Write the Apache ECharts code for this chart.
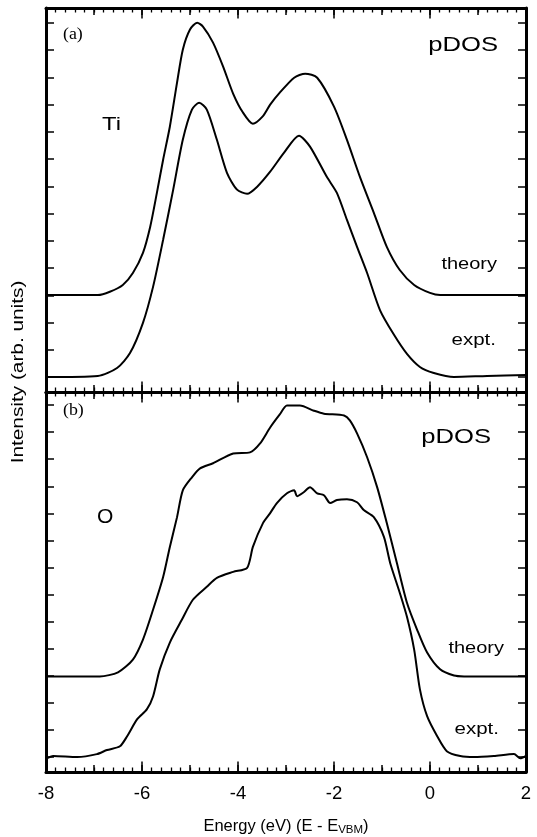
<!DOCTYPE html>
<html>
<head>
<meta charset="utf-8">
<script src="https://cdn.jsdelivr.net/npm/echarts@6/dist/echarts.min.js"></script>
<style>
  html, body { margin: 0; padding: 0; background: #fff; }
  #pdos { width: 537px; height: 837px; }
</style>
</head>
<body>
<div id="pdos"></div>
<script>
var chart = echarts.init(document.getElementById("pdos"));

// energy (eV) vs intensity (arb. units, one unit = one y tick)
var tiTheory = [
    [-8.0, 3.01], [-6.92, 3.01], [-6.67, 3.13], [-6.40, 3.38], [-6.19, 3.82],
    [-5.98, 4.56], [-5.83, 5.51], [-5.69, 6.76], [-5.56, 7.98], [-5.42, 9.19],
    [-5.27, 10.81], [-5.15, 12.02], [-5.00, 12.76], [-4.85, 13.01], [-4.73, 12.87],
    [-4.52, 12.28], [-4.31, 11.40], [-4.10, 10.40], [-3.90, 9.72], [-3.69, 9.30],
    [-3.48, 9.58], [-3.33, 10.00], [-3.13, 10.44], [-2.83, 10.99], [-2.60, 11.14],
    [-2.35, 10.99], [-2.00, 9.93], [-1.73, 8.71], [-1.46, 7.35], [-1.17, 6.03],
    [-0.90, 4.78], [-0.63, 3.93], [-0.33, 3.38], [0.0, 3.09], [0.21, 3.01],
    [2.0, 3.01]
];
var tiExpt = [
    [-8.0, 0.0], [-6.92, 0.04], [-6.52, 0.33], [-6.25, 0.88], [-5.98, 1.99],
    [-5.77, 3.31], [-5.56, 5.04], [-5.35, 6.88], [-5.15, 8.71], [-4.96, 9.82],
    [-4.81, 10.07], [-4.65, 9.82], [-4.44, 8.71], [-4.23, 7.50], [-4.02, 6.88],
    [-3.81, 6.73], [-3.60, 6.99], [-3.33, 7.54], [-3.04, 8.24], [-2.73, 8.86],
    [-2.50, 8.46], [-2.15, 7.35], [-1.94, 6.76], [-1.73, 5.77], [-1.52, 4.78],
    [-1.31, 3.82], [-1.04, 2.45], [-0.75, 1.55], [-0.48, 0.85], [-0.21, 0.37],
    [0.08, 0.15], [0.5, 0.0], [1.19, 0.04], [2.0, 0.07]
];
var oTheory = [
    [-8.0, 2.98], [-6.88, 2.98], [-6.5, 3.13], [-6.19, 3.60], [-5.98, 4.34],
    [-5.77, 5.44], [-5.56, 6.65], [-5.42, 7.76], [-5.27, 8.86], [-5.15, 9.85],
    [-4.96, 10.33], [-4.79, 10.66], [-4.52, 10.85], [-4.10, 11.21], [-3.75, 11.25],
    [-3.54, 11.58], [-3.33, 12.17], [-3.13, 12.65], [-2.98, 12.98], [-2.71, 12.98],
    [-2.42, 12.79], [-2.21, 12.68], [-1.79, 12.61], [-1.67, 12.43], [-1.52, 11.95],
    [-1.31, 11.07], [-1.10, 9.96], [-0.90, 8.64], [-0.69, 7.17], [-0.48, 5.70],
    [-0.27, 4.71], [-0.06, 3.86], [0.21, 3.24], [0.5, 3.01], [0.71, 2.98],
    [2.0, 2.98]
];
var oExpt = [
    [-8.0, -0.07], [-7.85, 0.04], [-7.35, 0.0], [-6.94, 0.11], [-6.73, 0.26],
    [-6.46, 0.40], [-6.31, 0.77], [-6.10, 1.40], [-5.90, 1.76], [-5.77, 2.24],
    [-5.63, 3.24], [-5.42, 4.23], [-5.17, 5.07], [-4.94, 5.81], [-4.65, 6.29],
    [-4.44, 6.62], [-4.10, 6.84], [-3.81, 6.99], [-3.69, 7.76], [-3.48, 8.64],
    [-3.33, 9.01], [-3.19, 9.38], [-2.98, 9.74], [-2.83, 9.85], [-2.77, 9.63],
    [-2.63, 9.78], [-2.50, 9.96], [-2.35, 9.74], [-2.21, 9.67], [-2.08, 9.38],
    [-1.94, 9.49], [-1.73, 9.52], [-1.52, 9.41], [-1.38, 9.12], [-1.17, 8.86],
    [-0.96, 8.13], [-0.83, 7.17], [-0.63, 6.07], [-0.48, 5.18], [-0.33, 3.97],
    [-0.21, 2.50], [-0.06, 1.51], [0.15, 0.77], [0.35, 0.22], [0.63, 0.04],
    [0.92, 0.0], [1.33, 0.04], [1.75, 0.11], [1.88, -0.04], [2.0, 0.04]
];
var yTicks = [0, 1, 2, 3, 4, 5, 6, 7, 8, 9, 10, 11, 12, 13];

var FONT = "'Liberation Sans', Arial, sans-serif";

// major ticks every 2, medium every 1, small ones every 0.2
function xAx(grid, pos, major, labels) {
    var ax = {
        type: 'value', gridIndex: grid, position: pos,
        min: -8, max: 2, interval: major ? 2 : 1,
        axisLine: { show: major, onZero: false, lineStyle: { color: '#000', width: 3 } },
        axisTick: { inside: true, length: major ? 10.5 : 7, lineStyle: { color: '#000', width: 1.5 } },
        minorTick: { show: major, splitNumber: 10, length: 4.5, lineStyle: { color: '#000', width: 1.3 } },
        axisLabel: { show: labels, margin: 12, color: '#000', fontSize: 18.5, fontFamily: FONT },
        splitLine: { show: false }
    };
    if (labels) {
        ax.name = 'Energy (eV) (E - E{sub|VBM})';
        ax.nameLocation = 'middle';
        ax.nameGap = 44;
        ax.nameTextStyle = {
            color: '#000', fontSize: 16.5, fontFamily: FONT,
            rich: { sub: { fontSize: 11.5, color: '#000', fontFamily: FONT, padding: [8, 0, 0, 0] } }
        };
    }
    return ax;
}
function yAx(grid, pos, max) {
    return {
        type: 'value', gridIndex: grid, position: pos,
        min: -0.55, max: max,
        axisLine: { show: true, onZero: false, lineStyle: { color: '#000', width: 3 } },
        axisTick: { show: true, inside: true, length: 8, customValues: yTicks, lineStyle: { color: '#000', width: 1.5 } },
        axisLabel: { show: false },
        splitLine: { show: false }
    };
}
function curve(data, grid) {
    return {
        type: 'line', data: data, showSymbol: false, smooth: 0.25,
        xAxisIndex: grid * 4, yAxisIndex: grid * 2,
        lineStyle: { color: '#000', width: 2 }
    };
}
function label(txt, x, y, size, align, family, sx) {
    return {
        type: 'text', x: x, y: y, scaleX: sx || 1,
        style: { text: txt, fontSize: size, fontFamily: family || FONT, fill: '#000',
                 align: align || 'left', verticalAlign: 'middle' }
    };
}

var option = {
    backgroundColor: '#fff',
    animation: false,
    grid: [
        { left: 46, right: 11, top: 8, height: 384 },
        { left: 46, right: 11, top: 392, height: 381 }
    ],
    xAxis: [
        xAx(0, 'bottom', true, false), xAx(0, 'top', true, false),
        xAx(0, 'bottom', false, false), xAx(0, 'top', false, false),
        xAx(1, 'bottom', true, true), xAx(1, 'top', true, false),
        xAx(1, 'bottom', false, false), xAx(1, 'top', false, false)
    ],
    yAxis: [
        yAx(0, 'left', 13.55), yAx(0, 'right', 13.55),
        yAx(1, 'left', 13.48), yAx(1, 'right', 13.48)
    ],
    series: [
        curve(tiTheory, 0), curve(tiExpt, 0),
        curve(oTheory, 1), curve(oExpt, 1)
    ],
    graphic: [
        label('(a)', 63, 35, 17, 'left', "'Liberation Serif', serif", 1.05),
        label('(b)', 63, 411, 17, 'left', "'Liberation Serif', serif", 1.05),
        label('pDOS', 498, 45, 21, 'right', FONT, 1.22),
        label('pDOS', 491, 437, 21, 'right', FONT, 1.22),
        label('Ti', 102, 125, 19, 'left', FONT, 1.25),
        label('O', 97, 517, 21, 'left', FONT, 1.0),
        label('theory', 497, 265, 16, 'right', FONT, 1.25),
        label('expt.', 496, 341, 16, 'right', FONT, 1.28),
        label('theory', 504, 649, 16, 'right', FONT, 1.25),
        label('expt.', 499, 730, 16, 'right', FONT, 1.28),
        {
            type: 'text', x: 19, y: 372, rotation: Math.PI / 2, scaleX: 1.3,
            style: { text: 'Intensity (arb. units)', fontSize: 16, fontFamily: FONT, fill: '#000',
                     align: 'center', verticalAlign: 'middle' }
        }
    ]
};

chart.setOption(option);
</script>
</body>
</html>
